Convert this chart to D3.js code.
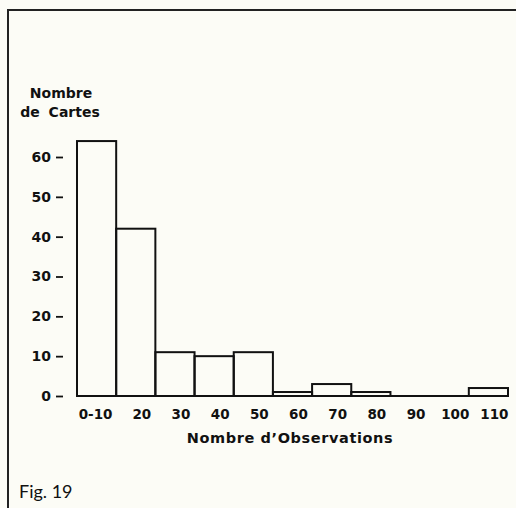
<!DOCTYPE html>
<html><head><meta charset="utf-8">
<script src="https://cdn.jsdelivr.net/npm/d3@7"></script>
<style>
html,body{margin:0;padding:0;background:#fcfcf6;}
svg{display:block;}
text{font-family:"DejaVu Sans",sans-serif;font-weight:bold;fill:#111;}
</style></head><body>
<script>
const categories = ["0-10","20","30","40","50","60","70","80","90","100","110"];
const counts = [64, 42, 11, 10, 11, 1, 3, 1, 0, 0, 2];
const yTicks = [0, 10, 20, 30, 40, 50, 60];
const yTitle = ["Nombre", "de Cartes"];
const xTitle = "Nombre  d\u2019Observations";
const figLabel = "Fig. 19";

const W = 516, H = 508;
const svg = d3.select("body").append("svg").attr("width", W).attr("height", H);

// frame
svg.append("path").attr("d", `M8,${H} L8,10 L${W},10`)
  .attr("fill","none").attr("stroke","#222").attr("stroke-width",2);

const x = d3.scaleBand().domain(categories).range([77, 508]).padding(0);
const y = d3.scaleLinear().domain([0, 60]).range([396, 157]);

// bars
svg.append("g").selectAll("rect").data(counts).join("rect")
  .attr("x", (d,i) => x(categories[i]))
  .attr("y", d => y(d))
  .attr("width", x.bandwidth())
  .attr("height", d => y(0) - y(d))
  .attr("fill", "none").attr("stroke", "#111").attr("stroke-width", 2);

// baseline
svg.append("line").attr("x1", 77).attr("x2", 508).attr("y1", y(0)).attr("y2", y(0))
  .attr("stroke","#111").attr("stroke-width",2);

// y axis
const ya = svg.append("g").attr("transform","translate(63,0)")
  .call(d3.axisLeft(y).tickValues(yTicks).tickSize(7).tickPadding(5));
ya.select(".domain").remove();
ya.selectAll(".tick line").attr("stroke","#111").attr("stroke-width",1.8);
ya.selectAll(".tick text").attr("font-size",14).attr("font-family","DejaVu Sans").attr("font-weight","bold").attr("fill","#111");

// x axis labels
const xa = svg.append("g").attr("transform",`translate(0,${y(0)})`)
  .call(d3.axisBottom(x).tickSize(0).tickPadding(13));
xa.select(".domain").remove();
xa.selectAll(".tick text").attr("font-size",13.5).attr("font-family","DejaVu Sans").attr("font-weight","bold").attr("fill","#111")
  .attr("dx", (d,i) => i === 0 ? -1 : 6);

// titles
svg.append("text").attr("x",61).attr("y",98).attr("text-anchor","middle").attr("font-size",14).text(yTitle[0]);
svg.append("text").attr("x",60).attr("y",117).attr("text-anchor","middle").attr("font-size",14)
  .attr("word-spacing",4).text(yTitle[1]);
svg.append("text").attr("x",290).attr("y",443).attr("text-anchor","middle").attr("font-size",14.5)
  .attr("letter-spacing",0.6).text(xTitle);

svg.append("text").attr("x",19).attr("y",498).attr("font-size",18)
  .style("font-family","Lato, sans-serif").style("font-weight","normal").text(figLabel);
</script>
</body></html>
